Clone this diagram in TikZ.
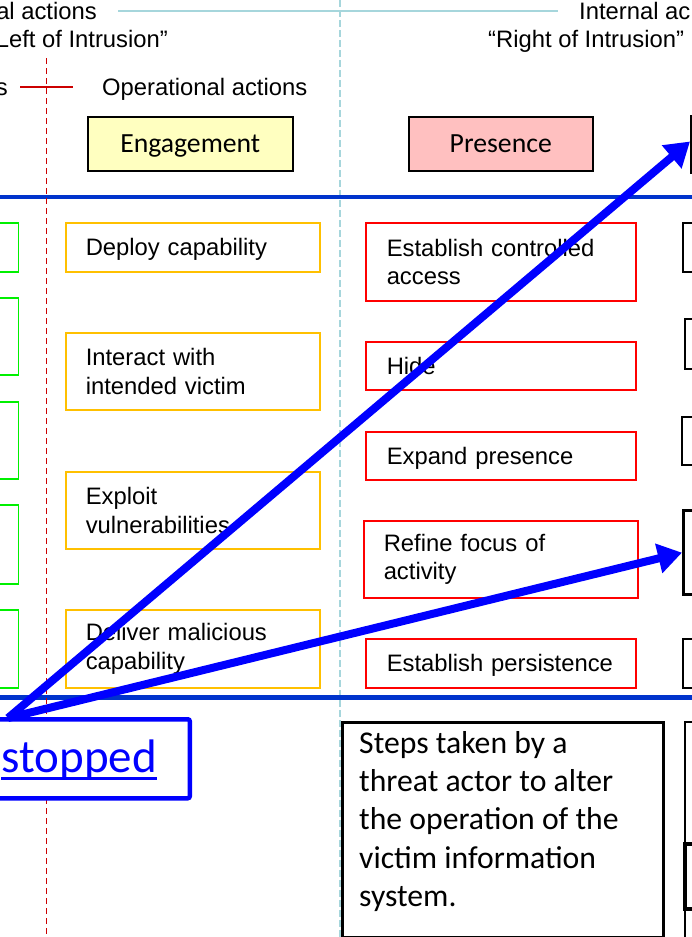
\documentclass[tikz,border=0pt]{standalone}
\usepackage{fontspec}
\setmainfont{Liberation Sans}
\newfontfamily\calfont{Carlito}
\usetikzlibrary{arrows.meta}
\definecolor{tealone}{RGB}{166,214,220}
\definecolor{lineblue}{RGB}{0,51,204}
\definecolor{engfill}{RGB}{255,255,192}
\definecolor{presfill}{RGB}{255,192,192}
\definecolor{engline}{RGB}{255,192,0}
\definecolor{greenline}{RGB}{0,240,0}
\definecolor{darkred}{RGB}{204,0,0}
\definecolor{arrowblue}{RGB}{0,0,255}
\newcommand\arialsz{\fontsize{23.8pt}{28.5pt}\selectfont}
\begin{document}
\begin{tikzpicture}[x=1pt,y=-1pt,
  lbl/.style={font=\arialsz, inner sep=0pt},
  hdr/.style={draw=black, line width=1.5pt, minimum width=205pt, minimum height=54pt,
    font=\calfont\fontsize{27.7pt}{32pt}\selectfont, text depth=0pt, anchor=north west},
  ebox/.style={draw=engline, line width=1.5pt, minimum width=254pt, text width=214pt,
    inner xsep=20pt, align=left, font=\arialsz, anchor=north west},
  pbox/.style={draw=red, line width=1.5pt, minimum width=270pt, text width=228pt,
    inner xsep=21pt, align=left, font=\arialsz, anchor=north west},
  oneline/.style={text depth=0pt},
  gbox/.style={draw=greenline, line width=1.5pt, anchor=north east, minimum width=60pt},
  kbox/.style={draw=black, line width=1.5pt, anchor=north west, minimum width=60pt},
  bigarrow/.style={draw=arrowblue, line width=8pt, -{Triangle[length=24pt,width=29pt]}},
]
\useasboundingbox (0,0) rectangle (692,937);
\fill[white] (0,0) rectangle (692,937);
\clip (0,0) rectangle (692,937);

% divider lines
\draw[tealone, line width=2pt] (118,11) -- (558,11);
\draw[tealone, line width=1.5pt, dash pattern=on 7pt off 3pt] (340,0) -- (340,937);
\draw[lineblue, line width=4.5pt] (0,197) -- (692,197);
\draw[lineblue, line width=5pt] (0,697) -- (692,697);
\draw[darkred, line width=1.6pt, dash pattern=on 6pt off 4pt] (46.5,58) -- (46.5,937);
\draw[darkred, line width=1.6pt] (20,87) -- (73,87);

% top labels
\node[lbl, anchor=base east] (ext) at (97,19) {al actions};
\node[lbl, anchor=base east] (lefti) at (168,47) {Left of Intrusion”};
\node[lbl, anchor=base east] (sfrag) at (8,95.5) {s};
\node[lbl, anchor=base west] (opact) at (102,95.5) {Operational actions};
\node[lbl, anchor=base west] (intact) at (579,19) {Internal ac};
\node[lbl, anchor=base west] (righti) at (488,47) {“Right of Intrusion”};

% headers
\node[hdr, fill=engfill] (eng) at (87,116) {Engagement};
\node[hdr, fill=presfill, minimum width=184pt] (pres) at (408,116) {Presence};
\node[draw=black, line width=3pt, fill=white, anchor=north west, minimum width=60pt, minimum height=56pt] (effect) at (690,115) {};

% left green column
\node[gbox, minimum height=49pt] (g1) at (19,222) {};
\node[gbox, minimum height=77pt] (g2) at (19,297) {};
\node[gbox, minimum height=77pt] (g3) at (19,401) {};
\node[gbox, minimum height=79pt] (g4) at (19,504) {};
\node[gbox, minimum height=78pt] (g5) at (19,609) {};

% engagement column
\node[ebox, oneline, minimum height=49pt] (e1) at (65,222) {Deploy capability};
\node[ebox, minimum height=77pt] (e2) at (65,332) {Interact with\\intended victim};
\node[ebox, minimum height=77pt] (e3) at (65,471) {Exploit\\vulnerabilities};
\node[ebox, minimum height=78pt] (e4) at (65,609) {Deliver malicious\\capability};

% presence column
\node[pbox, minimum height=78pt] (p1) at (365,222) {Establish controlled\\access};
\node[pbox, oneline, minimum height=48pt] (p2) at (365,341) {Hide};
\node[pbox, oneline, minimum height=48pt] (p3) at (365,431) {Expand presence};
\node[pbox, minimum height=77pt, minimum width=274pt, text width=234pt, inner xsep=20pt] (p4) at (363,520) {Refine focus of\\activity};
\node[pbox, oneline, minimum height=49pt] (p5) at (365,638) {Establish persistence};

% right column (partly visible)
\node[kbox, minimum height=49pt] (k1) at (682,222) {};
\node[kbox, minimum height=50pt] (k2) at (684,318) {};
\node[kbox, minimum height=48pt] (k3) at (681,416) {};
\node[kbox, line width=3.3pt, minimum height=84pt] (k4) at (682,509) {};
\node[kbox, minimum height=49pt] (k5) at (682,638) {};
\node[kbox, minimum height=240pt] (k6) at (684,721) {};
\node[kbox, line width=3.5pt, minimum height=65pt] (k7) at (683,842) {};

% bottom boxes
\node[draw=arrowblue, line width=4.5pt, rounded corners=2pt, fill=white, anchor=north east,
  minimum width=240pt, minimum height=79pt] (stopbox) at (192,717) {};
\node[font=\calfont\fontsize{47pt}{56pt}\selectfont, text=arrowblue, inner sep=0pt, anchor=base east] (stoptxt) at (157,772) {stopped};
\draw[arrowblue, line width=2.5pt] ([yshift=-6.5pt]stoptxt.base west) -- ([yshift=-6.5pt]stoptxt.base east);

\node[draw=black, line width=3pt, anchor=north west, minimum width=321pt, minimum height=215pt] (stepsbox) at (341,721) {};
\node[font=\calfont\fontsize{31.7pt}{38.3pt}\selectfont, align=left, inner sep=0pt, anchor=north west] (stepstxt) at (359,731)
  {Steps taken by a\\threat actor to alter\\the operation of the\\victim information\\system.};

% arrows
\coordinate (src) at (8,718);
\draw[bigarrow] (src) -- ([yshift=3pt]effect.west);
\draw[bigarrow] (src) -- (k4.west);
\end{tikzpicture}
\end{document}
